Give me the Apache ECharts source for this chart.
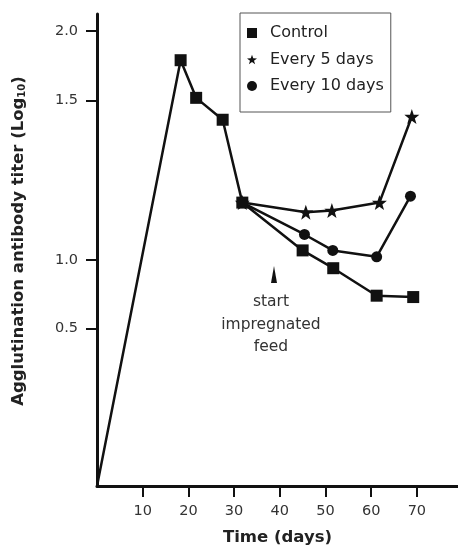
<!DOCTYPE html>
<html>
<head>
<meta charset="utf-8">
<script src="https://cdn.jsdelivr.net/npm/echarts@6/dist/echarts.min.js"></script>
<style>
html,body{margin:0;padding:0;background:#fff;}
#chart{width:458px;height:551px;}
</style>
</head>
<body>
<div id="chart"></div>
<script>
// ---- data ----
const seriesNames = ['Control', 'Every 5 days', 'Every 10 days'];
const controlDays  = [0, 18.3, 21.7, 27.5, 31.8, 45.0, 51.7, 61.2, 69.2];
const controlTiter = [0, 1.79, 1.52, 1.44, 1.18, 1.03, 0.94, 0.74, 0.73];
const every5Days   = [31.8, 45.7, 51.4, 61.8, 68.9];
const every5Titer  = [1.18, 1.15, 1.155, 1.18, 1.45];
const every10Days  = [31.8, 45.4, 51.6, 61.2, 68.6];
const every10Titer = [1.18, 1.08, 1.03, 1.01, 1.20];
const xTicks = [10, 20, 30, 40, 50, 60, 70];
const yTickLabels = ['0.5', '1.0', '1.5', '2.0'];
const yTickValues = [0.5, 1.0, 1.5, 2.0];
const annotationLines = ['start', 'impregnated', 'feed'];

// The printed y axis is not evenly spaced; map titer values onto it piecewise.
const axisBreakValues = [0, 0.5, 1.0, 1.5, 2.0];
const axisBreakPos    = [0, 158, 227, 387, 457];
function toAxis(v) {
  for (let i = 1; i < axisBreakValues.length; i++) {
    if (v <= axisBreakValues[i]) {
      const a = axisBreakValues[i-1], b = axisBreakValues[i];
      return axisBreakPos[i-1] + (v - a) / (b - a) * (axisBreakPos[i] - axisBreakPos[i-1]);
    }
  }
  return axisBreakPos[axisBreakPos.length-1];
}
const yTickPos = yTickValues.map(toAxis);

function pairs(xs, ys) {
  return xs.map((x, i) => {
    const item = { value: [x, toAxis(ys[i])] };
    if (ys[i] === 0) item.symbol = 'none';   // origin has no marker in the reference
    return item;
  });
}

function starPath() {
  let d = 'path://';
  for (let i = 0; i < 10; i++) {
    const r = i % 2 === 0 ? 10 : 4;
    const a = -Math.PI / 2 + i * Math.PI / 5;
    d += (i === 0 ? 'M' : 'L') + (r * Math.cos(a)).toFixed(2) + ',' + (r * Math.sin(a)).toFixed(2);
  }
  return d + 'Z';
}
const STAR = starPath();

const FONT = 'DejaVu Sans';
const INK = '#111';

const chart = echarts.init(document.getElementById('chart'));
chart.setOption({
  animation: false,
  backgroundColor: '#fff',
  textStyle: { fontFamily: FONT },
  grid: { left: 97, right: 0, top: 14, bottom: 62 },
  legend: {
    orient: 'vertical',
    left: 240, top: 13,
    padding: [11, 7, 17, 7],
    itemGap: 8.5,
    itemWidth: 10, itemHeight: 10,
    borderColor: '#555', borderWidth: 1,
    textStyle: { fontFamily: FONT, fontSize: 16, color: '#222', lineHeight: 18, padding: [0, 0, 0, 8] },
    data: [
      { name: seriesNames[0], icon: 'rect' },
      { name: seriesNames[1], icon: STAR },
      { name: seriesNames[2], icon: 'circle' }
    ]
  },
  xAxis: {
    type: 'value', min: 0, max: 79,
    name: 'Time (days)', nameLocation: 'middle', nameGap: 43,
    nameTextStyle: { fontFamily: FONT, fontSize: 16.5, fontWeight: 'bold', color: '#222' },
    axisLine: { show: true, lineStyle: { color: INK, width: 3 } },
    axisTick: { show: true, length: 11, lineStyle: { color: INK, width: 2 }, customValues: xTicks },
    axisLabel: { fontSize: 14.5, color: '#333', margin: 18, customValues: xTicks },
    splitLine: { show: false }
  },
  yAxis: {
    type: 'value', min: 0, max: 474,
    name: '{a|Agglutination antibody titer (Log}{s|10}{a|)}',
    nameLocation: 'middle', nameGap: 70, nameRotate: 90,
    nameTextStyle: {
      padding: [0, 0, 0, 18],
      rich: {
        a: { fontFamily: FONT, fontSize: 16.5, fontWeight: 'bold', color: '#222' },
        s: { fontFamily: FONT, fontSize: 10, fontWeight: 'bold', color: '#222', padding: [7, 0, 0, 0] }
      }
    },
    axisLine: { show: true, lineStyle: { color: INK, width: 3 } },
    axisTick: { show: true, length: 11, lineStyle: { color: INK, width: 2 }, customValues: yTickPos },
    axisLabel: {
      fontSize: 14.5, color: '#333', margin: 19, customValues: yTickPos,
      formatter: function (v) {
        for (let i = 0; i < yTickPos.length; i++) if (Math.abs(v - yTickPos[i]) < 0.5) return yTickLabels[i];
        return '';
      }
    },
    splitLine: { show: false }
  },
  graphic: [
    { type: 'polygon', shape: { points: [[274, 266], [271, 283], [277, 283]] }, style: { fill: INK } }
  ].concat(annotationLines.map((t, i) => ({
    type: 'text', x: 271, y: 302 + i * 22.7,
    style: { text: t, fontFamily: FONT, fontSize: 15.5, fill: '#333', align: 'center', verticalAlign: 'middle' }
  }))),
  series: [
    {
      name: seriesNames[1], type: 'line', data: pairs(every5Days, every5Titer),
      symbol: STAR, symbolSize: 15, z: 2,
      lineStyle: { color: INK, width: 2.5 }, itemStyle: { color: INK }
    },
    {
      name: seriesNames[2], type: 'line', data: pairs(every10Days, every10Titer),
      symbol: 'circle', symbolSize: 11, z: 2,
      lineStyle: { color: INK, width: 2.5 }, itemStyle: { color: INK }
    },
    {
      name: seriesNames[0], type: 'line', data: pairs(controlDays, controlTiter),
      symbol: 'rect', symbolSize: 12, z: 3,
      lineStyle: { color: INK, width: 2.5 }, itemStyle: { color: INK }
    }
  ]
});
</script>
</body>
</html>
